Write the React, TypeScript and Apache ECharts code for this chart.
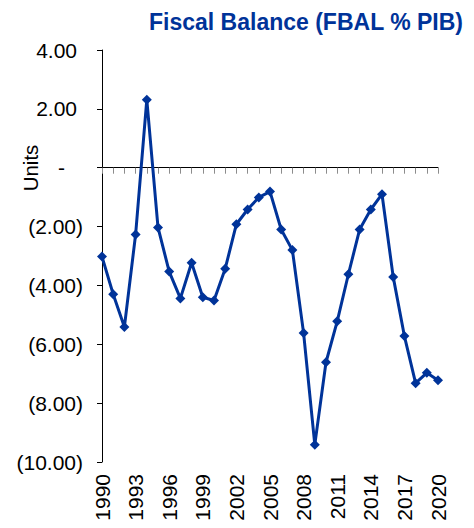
import React, { useEffect, useRef } from "react";
import * as echarts from "echarts";

const years = [
  "1990", "1991", "1992", "1993", "1994", "1995", "1996", "1997", "1998", "1999",
  "2000", "2001", "2002", "2003", "2004", "2005", "2006", "2007", "2008", "2009",
  "2010", "2011", "2012", "2013", "2014", "2015", "2016", "2017", "2018", "2019",
  "2020",
];

const fbal = [
  -3.02, -4.3, -5.41, -2.27, 2.31, -2.03, -3.53, -4.44, -3.23, -4.4,
  -4.51, -3.43, -1.92, -1.42, -1.01, -0.81, -2.1, -2.8, -5.62, -9.41,
  -6.61, -5.22, -3.62, -2.1, -1.42, -0.9, -3.71, -5.72, -7.32, -6.97,
  -7.22,
];

const titleText = "Fiscal Balance (FBAL % PIB)";
const yAxisName = "Units";
const yMin = -10;
const yMax = 4;
const yStep = 2;

const FONT = "'Liberation Sans', Arial, sans-serif";
const BLUE = "#003399";

function fmtY(v: number): string {
  if (Math.abs(v) < 1e-9) return "{z|-}";
  if (v < 0) return "{n|(" + Math.abs(v).toFixed(2) + ")}";
  return "{p|" + v.toFixed(2) + "}";
}

export default function App() {
  const ref = useRef<HTMLDivElement>(null);
  useEffect(() => {
    document.body.style.margin = "0";
    if (!ref.current) return;
    const chart = echarts.init(ref.current, null, { renderer: "svg" });
    const labelBase = { fontSize: 21, fontFamily: FONT, color: "#000" };
    chart.setOption({
      animation: false,
      backgroundColor: "#fff",
      title: {
        text: titleText,
        left: 144,
        top: 5,
        textStyle: { fontSize: 23, fontWeight: "bold", color: BLUE, fontFamily: FONT },
      },
      grid: { left: 102, right: 36, top: 50, bottom: 66, outerBoundsMode: "none" },
      graphic: [
        {
          type: "text",
          x: 30,
          y: 168,
          rotation: Math.PI / 2,
          style: {
            text: yAxisName,
            fontSize: 20.5,
            fontFamily: FONT,
            fill: "#000",
            align: "center",
            verticalAlign: "middle",
          },
        },
      ],
      xAxis: [
        {
          type: "category",
          data: years,
          boundaryGap: false,
          position: "bottom",
          axisLine: { show: false, onZero: false },
          axisTick: { show: false },
          splitLine: { show: false },
          axisLabel: {
            interval: 2,
            rotate: 90,
            margin: 12,
            ...labelBase,
          },
        },
        {
          type: "category",
          data: years,
          boundaryGap: false,
          position: "top",
          axisLine: { show: true, onZero: true, lineStyle: { color: "#000", width: 1 } },
          axisTick: { show: true, inside: true, interval: 0, length: 6, lineStyle: { color: "#8c8c8c", width: 1 } },
          axisLabel: { show: false },
          splitLine: { show: false },
        },
      ],
      yAxis: {
        type: "value",
        min: yMin,
        max: yMax,
        interval: yStep,
        axisLine: { show: true, lineStyle: { color: "#000", width: 1 } },
        axisTick: { show: true, length: 5, lineStyle: { color: "#000" } },
        splitLine: { show: false },
        axisLabel: {
          margin: 19,
          formatter: fmtY,
          ...labelBase,
          rich: {
            p: { ...labelBase, padding: [0, 6, 0, 0] },
            n: { ...labelBase },
            z: { ...labelBase, padding: [0, 18, 0, 0] },
          },
        },
      },
      series: [
        {
          type: "line",
          xAxisIndex: 0,
          data: fbal,
          symbol: "diamond",
          symbolSize: 10,
          showSymbol: true,
          showAllSymbol: true,
          lineStyle: { color: BLUE, width: 3 },
          itemStyle: { color: BLUE },
        },
      ],
    });
    return () => chart.dispose();
  }, []);
  return <div ref={ref} style={{ width: 474, height: 528 }} />;
}
